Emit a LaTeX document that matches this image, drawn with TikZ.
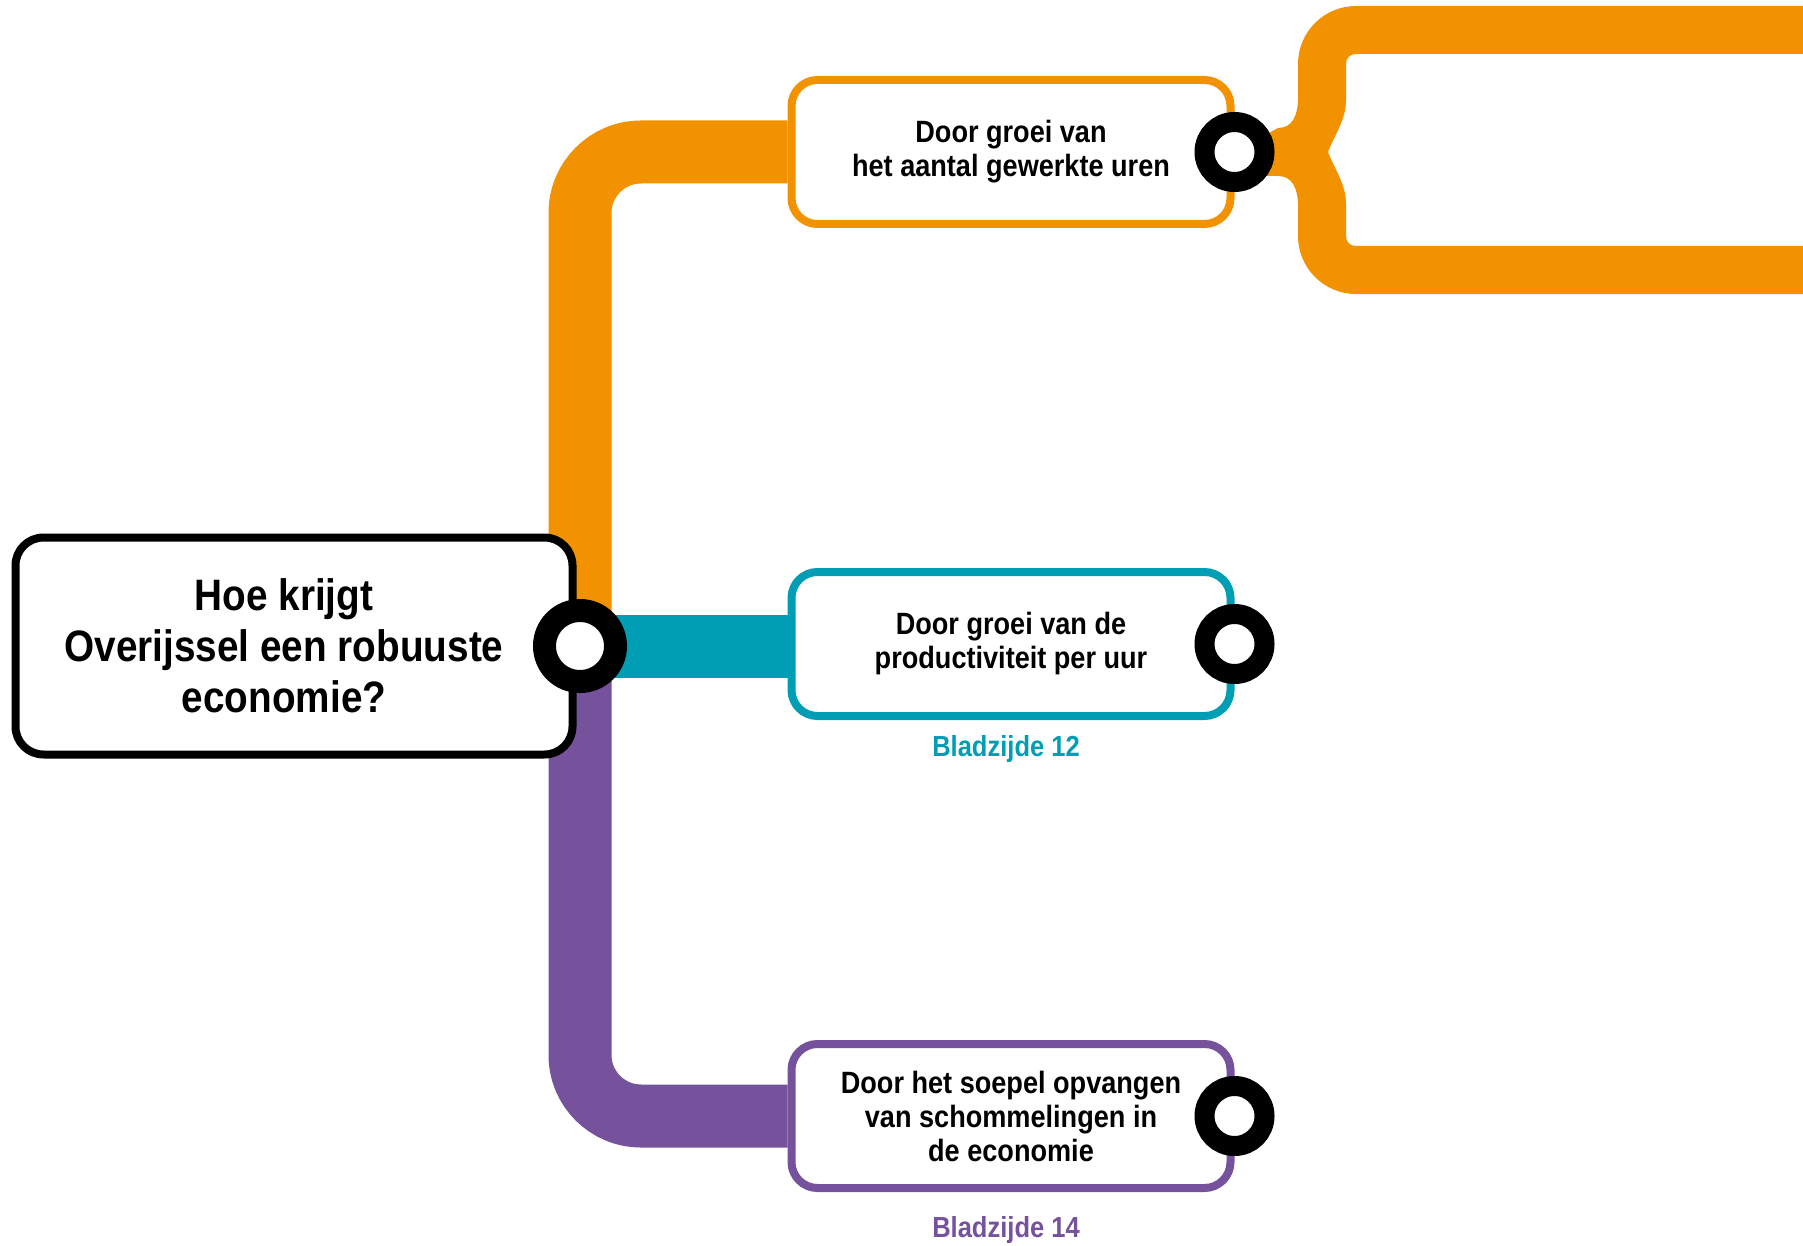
\documentclass[tikz,border=0pt]{standalone}
\usepackage{fontspec}
\setmainfont[FakeStretch=0.88]{Liberation Sans}
\usetikzlibrary{positioning,backgrounds}
\definecolor{ovorange}{HTML}{F39200}
\definecolor{ovteal}{HTML}{009EB5}
\definecolor{ovpurple}{HTML}{76529D}

\begin{document}
\begin{tikzpicture}[x=0.5pt, y=-0.5pt, node distance=4pt,
	main box/.style={rectangle, rounded corners=14pt, draw=black, line width=4pt, fill=white,
		minimum width=278.5pt, minimum height=108.5pt},
	main text/.style={align=center, font=\bfseries\fontsize{22}{25.5}\selectfont},
	sub box/.style={rectangle, rounded corners=13pt, draw=#1, line width=4pt, fill=white,
		minimum width=219.5pt, minimum height=72pt, align=center,
		font=\bfseries\fontsize{15.4}{17}\selectfont},
	ring/.style={circle, draw=black, fill=white, inner sep=0pt, line width=10pt, minimum size=30pt},
	big ring/.style={ring, line width=11.5pt, minimum size=35.5pt},
	wire/.style={draw=#1, line width=31.5pt, rounded corners=30.5pt},
	page/.style={text=#1, xshift=-2.5pt, font=\bfseries\fontsize{14.5}{17}\selectfont}]
	
	\useasboundingbox (0,0) rectangle (1803,1246);
	
	\node[main box] (q) at (294,646) {};
	\node[main text] (qt) at ([xshift=-5pt]q.center) {Hoe krijgt\\Overijssel een robuuste\\economie?};
	\node[sub box=ovorange] (b1) at (1011,152) {Door groei van\\het aantal gewerkte uren};
	\node[sub box=ovteal] (b2) at (1011,644) {Door groei van de\\productiviteit per uur};
	\node[sub box=ovpurple] (b3) at (1011,1116) {Door het soepel opvangen\\van schommelingen in\\de economie};
	\node[page=ovteal] (p2) [below=of b2] {Bladzijde 12};
	\node[page=ovpurple] (p3) [below=8.5pt of b3] {Bladzijde 14};
	
	\node[big ring] (c0) at (580,646) {};
	\node[ring] (c1) at (b1.east) {};
	\node[ring] (c2) at (b2.east) {};
	\node[ring] (c3) at (b3.east) {};
	
	\begin{scope}[on background layer]
	\draw[wire=ovorange] (c0.center) |- (b1.west);
	\draw[wire=ovpurple] (c0.center) |- (b3.west);
	\draw[wire=ovteal] (c0.center) -- (c0.center -| b2.west);
	
	\fill[ovorange] (1803,6) -- (1356,6) .. controls (1324,6) and (1298,32) .. (1298,64)
		-- (1298,98) .. controls (1298,116) and (1292,128) .. (1278,128) -- (c1.center)
		-- (1234,176) -- (1278,176) .. controls (1292,176) and (1298,188) .. (1298,206)
		-- (1298,236) .. controls (1298,268) and (1324,294) .. (1356,294) -- (1803,294)
		-- (1803,246) -- (1356,246) .. controls (1350,246) and (1346,242) .. (1346,236)
		-- (1346,204) .. controls (1346,184) and (1334,168) .. (1328,152)
		.. controls (1334,136) and (1346,120) .. (1346,100) -- (1346,64)
		.. controls (1346,58) and (1350,54) .. (1356,54) -- (1803,54) -- cycle;
	\end{scope}
	
\end{tikzpicture}
\end{document}
